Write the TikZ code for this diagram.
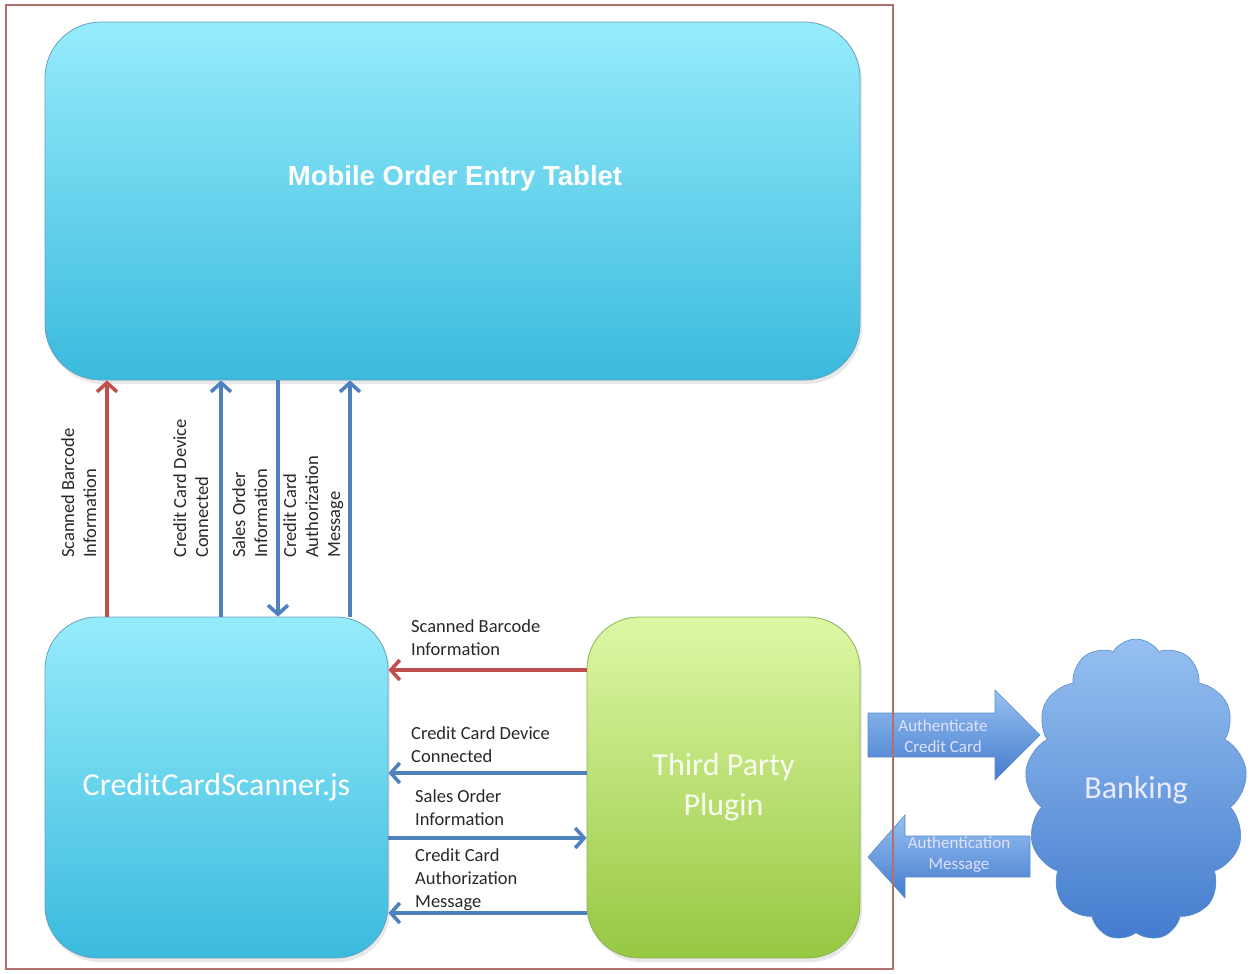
\documentclass[tikz,border=0pt]{standalone}
\usepackage{fontspec}
\setmainfont{Carlito}
\newfontfamily\titlefont{Liberation Sans}
\usetikzlibrary{arrows.meta,shapes.symbols,shadows}

\definecolor{framered}{RGB}{176,112,110}
\definecolor{flowred}{RGB}{192,80,77}
\definecolor{flowblue}{RGB}{79,129,189}
\definecolor{cyantop}{RGB}{150,236,251}
\definecolor{cyanbot}{RGB}{58,186,222}
\definecolor{cyanline}{RGB}{105,160,190}
\definecolor{greentop}{RGB}{222,247,165}
\definecolor{greenbot}{RGB}{150,200,66}
\definecolor{greenline}{RGB}{140,180,85}
\definecolor{bluetop}{RGB}{150,192,240}
\definecolor{bluebot}{RGB}{68,124,206}
\definecolor{blueline}{RGB}{90,140,205}
\definecolor{labelgray}{RGB}{40,40,40}

\tikzset{
  roundbox/.style={rounded corners=52, line width=0.8,
    drop shadow={opacity=0.18, shadow xshift=2pt, shadow yshift=-4pt}},
  cyanbox/.style={roundbox, draw=cyanline, top color=cyantop, bottom color=cyanbot},
  greenbox/.style={roundbox, draw=greenline, top color=greentop, bottom color=greenbot},
  flow/.style={line width=3.6, -{Straight Barb[length=9pt,width=20pt]}},
  redflow/.style={flow, flowred},
  blueflow/.style={flow, flowblue},
  hlabel/.style={anchor=north west, align=left, inner sep=0, text=labelgray,
    font=\fontsize{18.5}{23}\selectfont},
  vlabel/.style={hlabel, rotate=90, font=\fontsize{18.5}{22}\selectfont},
  blockarrow/.style={draw=blueline, line width=0.6, top color=bluetop, bottom color=bluebot},
  blocktext/.style={align=center, inner sep=0, text=white!88!blue,
    font=\fontsize{17}{21}\selectfont},
}

\begin{document}
\begin{tikzpicture}[x=1pt,y=-1pt]
\useasboundingbox (0,0) rectangle (1251,974);

%Shape: Rounded Rectangle [tablet]
\node[cyanbox, rounded corners=56, minimum width=815, minimum height=358] (tablet) at (452.5,201) {};
% Text Node
\node[text=white, font=\titlefont\bfseries\fontsize{27.5}{32}\selectfont] (tablettitle) at (455,178) {Mobile Order Entry Tablet};

%Shape: Rounded Rectangle [scanner]
\node[cyanbox, minimum width=343, minimum height=341, text=white,
  font=\fontsize{32}{36}\selectfont] (scanner) at (216.5,787.5) {CreditCardScanner.js};
%Shape: Rounded Rectangle [plugin]
\node[greenbox, minimum width=273, minimum height=341, align=center, text=white!85!greentop,
  font=\fontsize{32}{40}\selectfont] (plugin) at (723.5,787.5) {Third Party\\Plugin};

%Shape: Cloud [bank]
\node[cloud, cloud puffs=13, cloud puff arc=115, cloud ignores aspect,
  minimum width=222, minimum height=302, draw=blueline, line width=0.6,
  top color=bluetop, bottom color=bluebot, text=white!92!blue,
  font=\fontsize{32}{36}\selectfont] (bank) at (1136,790) {Banking};

% tablet <-> scanner
\draw[redflow] (scanner.north -| 107,0) -- (tablet.south -| 107,0);
\draw[blueflow] (scanner.north -| 221,0) -- (tablet.south -| 221,0);
\draw[blueflow] (tablet.south -| 278,0) -- (scanner.north -| 278,0);
\draw[blueflow] (scanner.north -| 350,0) -- (tablet.south -| 350,0);

% Text Node
\node[vlabel] (vscan) at (61,558) {Scanned Barcode\\Information};
\node[vlabel] (vdevice) at (173,558) {Credit Card Device\\Connected};
\node[vlabel] (vsales) at (232,558) {Sales Order\\Information};
\node[vlabel] (vauth) at (283,558) {Credit Card\\Authorization\\Message};

% plugin <-> scanner
\draw[redflow] (plugin.west |- 0,670) -- (scanner.east |- 0,670);
\draw[blueflow] (plugin.west |- 0,773) -- (scanner.east |- 0,773);
\draw[blueflow] (scanner.east |- 0,838) -- (plugin.west |- 0,838);
\draw[blueflow] (plugin.west |- 0,913) -- (scanner.east |- 0,913);

% Text Node
\node[hlabel] (hscan) at (411,619) {Scanned Barcode\\Information};
\node[hlabel] (hdevice) at (411,726) {Credit Card Device\\Connected};
\node[hlabel] (hsales) at (415,789) {Sales Order\\Information};
\node[hlabel] (hauth) at (415,848) {Credit Card\\Authorization\\Message};

%Shape: Right Arrow [plugin -> bank]
\path[blockarrow] (868,713) -- (995,713) -- (995,690) -- (1040,735) -- (995,780)
  -- (995,757) -- (868,757) -- cycle;
\node[blocktext] (authcard) at (943,736) {Authenticate\\Credit Card};
%Shape: Left Arrow [bank -> plugin]
\path[blockarrow] (1030,836) -- (905,836) -- (905,815) -- (868,857) -- (905,898)
  -- (905,877) -- (1030,877) -- cycle;
\node[blocktext] (authmsg) at (959,855) {Authentication\\Message};

%Shape: Frame
\draw[framered, line width=1.3] (6,5) rectangle (893,969);

\end{tikzpicture}
\end{document}
